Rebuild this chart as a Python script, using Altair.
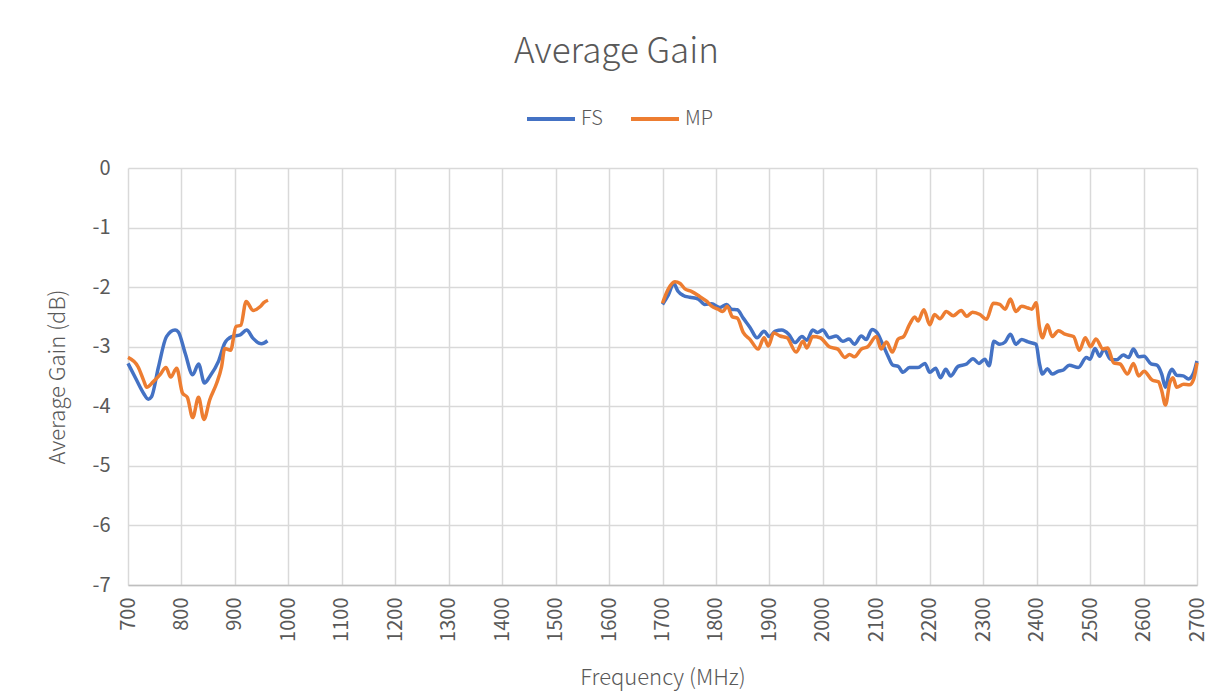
import altair as alt
import pandas as pd

# ---- FS series ----
fs_f1 = [700, 716, 729, 738, 744, 757, 772, 788, 794, 807, 821, 832, 843, 853, 869, 881, 894, 910, 922, 934, 950, 961]
fs_g1 = [-3.28, -3.56, -3.78, -3.88, -3.84, -3.34, -2.83, -2.72, -2.75, -3.11, -3.47, -3.29, -3.61, -3.50, -3.25, -2.94, -2.83, -2.80, -2.72, -2.86, -2.95, -2.90]

fs_f2 = [1700, 1711, 1721, 1729, 1739, 1751, 1767, 1779, 1792, 1807, 1820, 1829, 1840, 1851, 1864, 1877, 1890, 1900, 1911, 1923, 1936, 1948, 1961, 1970, 1981, 1990, 2000,
         2012, 2025, 2037, 2049, 2059, 2072, 2081, 2092, 2101, 2112, 2122, 2131, 2141, 2150, 2162, 2178, 2191, 2200, 2211, 2220, 2230, 2239, 2253, 2269, 2281, 2292, 2303, 2311, 2320, 2331, 2341, 2351, 2361, 2372,
         2384, 2399, 2405, 2411, 2420, 2429, 2441, 2450, 2461, 2478, 2493, 2500, 2509, 2518, 2526, 2538, 2550, 2562, 2572, 2581, 2591, 2601, 2614, 2625, 2634, 2641, 2647, 2653, 2662, 2674, 2684, 2694, 2700]
fs_g2 = [-2.29, -2.13, -1.94, -2.07, -2.14, -2.17, -2.20, -2.29, -2.28, -2.34, -2.29, -2.37, -2.38, -2.52, -2.68, -2.85, -2.74, -2.83, -2.74, -2.72, -2.79, -2.93, -2.83, -2.89, -2.72, -2.76, -2.72,
         -2.85, -2.82, -2.91, -2.87, -2.96, -2.82, -2.88, -2.71, -2.76, -2.96, -3.16, -3.31, -3.33, -3.43, -3.35, -3.35, -3.28, -3.43, -3.36, -3.52, -3.38, -3.49, -3.33, -3.29, -3.20, -3.28, -3.21, -3.32, -2.91, -2.96, -2.92, -2.79, -2.96, -2.88,
         -2.92, -2.96, -3.27, -3.46, -3.37, -3.46, -3.41, -3.39, -3.31, -3.35, -3.18, -3.21, -3.03, -3.16, -3.04, -3.21, -3.22, -3.14, -3.18, -3.04, -3.17, -3.16, -3.29, -3.31, -3.46, -3.68, -3.48, -3.38, -3.48, -3.49, -3.54, -3.43, -3.24]

# ---- MP series ----
mp_f1 = [700, 719, 729, 735, 747, 760, 771, 780, 791, 802, 811, 821, 832, 842, 853, 866, 875, 881, 892, 902, 911, 921, 934, 947, 954, 962]
mp_g1 = [-3.18, -3.34, -3.56, -3.68, -3.59, -3.47, -3.35, -3.51, -3.36, -3.78, -3.85, -4.19, -3.85, -4.22, -3.89, -3.61, -3.34, -3.03, -3.06, -2.66, -2.64, -2.24, -2.39, -2.33, -2.26, -2.22]

mp_f2 = [1700, 1711, 1723, 1733, 1742, 1754, 1770, 1783, 1792, 1804, 1813, 1821, 1831, 1840, 1851, 1864, 1879, 1890, 1898, 1908, 1920, 1933, 1950, 1963, 1970, 1981, 1995,
         2012, 2028, 2041, 2050, 2059, 2072, 2084, 2100, 2109, 2119, 2130, 2141, 2151, 2162, 2172, 2178, 2189, 2200, 2209, 2219, 2231, 2244, 2259, 2269, 2280, 2294, 2306, 2319, 2331, 2341, 2351, 2361, 2372,
         2384, 2391, 2399, 2405, 2411, 2420, 2429, 2441, 2453, 2469, 2480, 2491, 2501, 2511, 2524, 2533, 2544, 2556, 2570, 2581, 2591, 2601, 2616, 2628, 2634, 2641, 2649, 2655, 2662, 2675, 2686, 2694, 2700]
mp_g2 = [-2.27, -2.03, -1.91, -1.94, -2.03, -2.07, -2.16, -2.24, -2.32, -2.37, -2.41, -2.32, -2.50, -2.52, -2.76, -2.88, -3.04, -2.85, -2.99, -2.77, -2.82, -2.85, -3.09, -2.91, -3.02, -2.83, -2.85,
         -3.00, -3.04, -3.18, -3.13, -3.17, -3.04, -3.00, -2.83, -3.04, -2.92, -3.09, -2.87, -2.83, -2.63, -2.50, -2.57, -2.38, -2.63, -2.46, -2.53, -2.41, -2.48, -2.39, -2.49, -2.42, -2.46, -2.54, -2.27, -2.29, -2.37, -2.20, -2.41, -2.32,
         -2.35, -2.37, -2.26, -2.66, -2.85, -2.63, -2.83, -2.73, -2.79, -2.83, -3.06, -2.85, -3.00, -2.87, -3.04, -3.02, -3.27, -3.29, -3.46, -3.28, -3.49, -3.41, -3.56, -3.59, -3.74, -3.98, -3.61, -3.52, -3.68, -3.63, -3.64, -3.54, -3.27]

series_names = ["FS", "MP"]
series_colors = ["#4472C4", "#ED7D31"]
x_ticks = list(range(700, 2701, 100))
y_ticks = [0, -1, -2, -3, -4, -5, -6, -7]

rows = []
for name, seg, fr, gn in [("FS", "a", fs_f1, fs_g1), ("FS", "b", fs_f2, fs_g2),
                          ("MP", "a", mp_f1, mp_g1), ("MP", "b", mp_f2, mp_g2)]:
    assert len(fr) == len(gn), (name, seg, len(fr), len(gn))
    for f, g in zip(fr, gn):
        rows.append({"freq": f, "gain": g, "series": name, "seg": name + seg})
df = pd.DataFrame(rows)

FONT = "Noto Sans CJK SC"
GREY = "#595959"

chart = alt.Chart(df).mark_line(strokeWidth=3.5, interpolate="monotone").encode(
    x=alt.X("freq:Q",
            scale=alt.Scale(domain=[700, 2700], nice=False, zero=False),
            axis=alt.Axis(values=x_ticks, title="Frequency (MHz)", labelAngle=270,
                          labelExpr="datum.value + ''",
                          labelFontSize=20, labelColor=GREY, labelPadding=12,
                          titleFontSize=22, titleColor=GREY, titleFontWeight=300, titlePadding=26,
                          ticks=False, domain=True, domainColor="#bfbfbf", domainWidth=1.5,
                          grid=True, gridColor="#d9d9d9", gridWidth=1.5, labelFlush=False)),
    y=alt.Y("gain:Q",
            scale=alt.Scale(domain=[-7, 0], nice=False),
            axis=alt.Axis(values=y_ticks, title="Average Gain (dB)",
                          labelExpr="datum.value + ''",
                          labelFontSize=20, labelColor=GREY, labelPadding=18,
                          titleFontSize=22, titleColor=GREY, titleFontWeight=300, titlePadding=22,
                          ticks=False, domain=False,
                          grid=True, gridColor="#d9d9d9", gridWidth=1.5)),
    color=alt.Color("series:N",
                    scale=alt.Scale(domain=series_names, range=series_colors),
                    legend=alt.Legend(title=None, orient="none", legendX=397, legendY=-75,
                                      direction="horizontal", symbolType="stroke",
                                      symbolSize=2304, symbolStrokeWidth=4,
                                      labelFontSize=20, labelColor=GREY, labelFontWeight=300,
                                      columnPadding=20, labelOffset=4)),
    detail="seg:N",
).properties(
    width=1069,
    height=417,
    title=alt.TitleParams("Average Gain", fontSize=35, color=GREY, fontWeight=300,
                          anchor="middle", dx=-46, offset=23),
    autosize=alt.AutoSizeParams(type="none"),
    padding={"left": 120, "top": 160, "right": 19, "bottom": 106},
).configure(font=FONT).configure_view(stroke=None)

chart.save("out.html", embed_options={"renderer": "svg", "actions": False})
